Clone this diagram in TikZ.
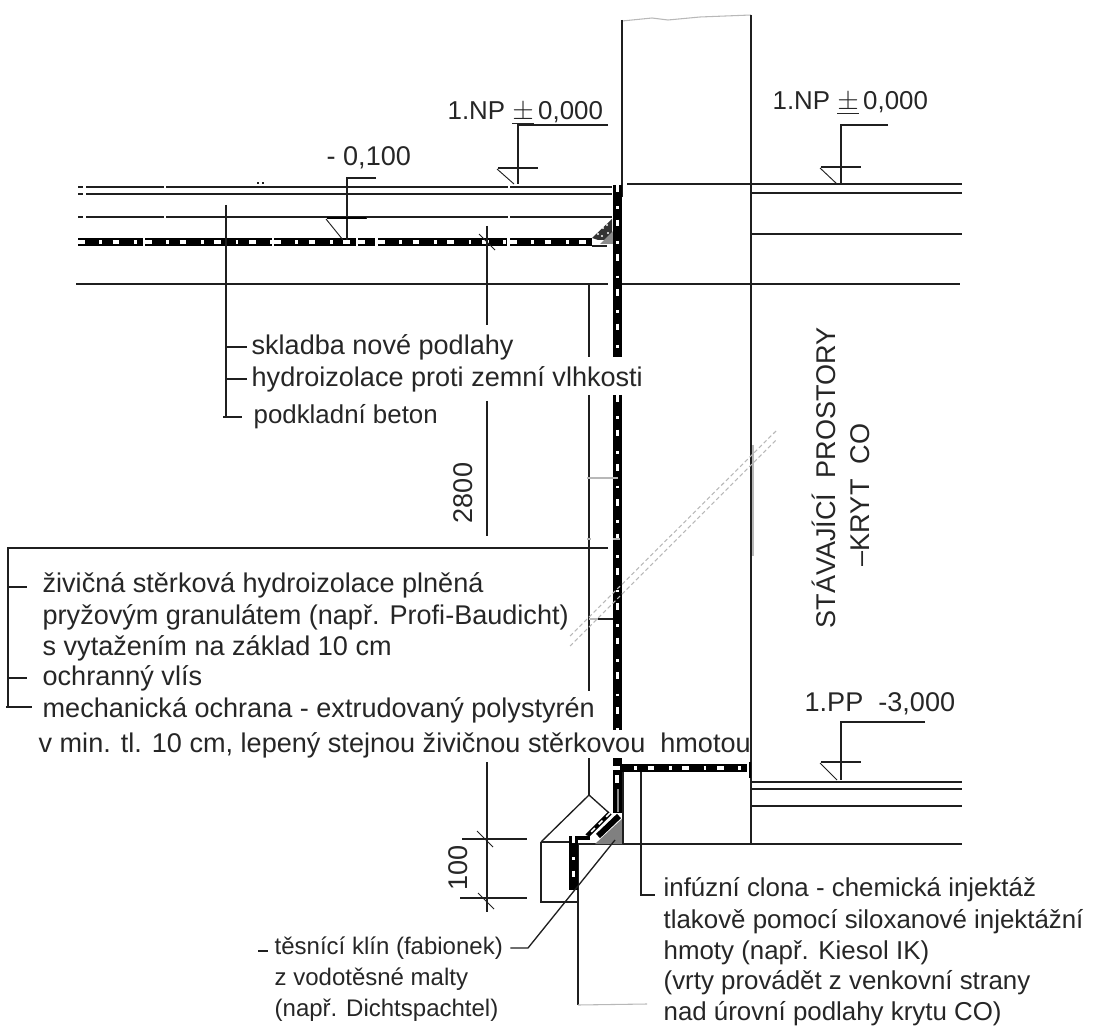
\documentclass[tikz,border=0pt]{standalone}
\usepackage{fontspec}
\setmainfont{Liberation Sans}
\tikzset{
    ln/.style={line width=1pt,color=black!88},
    lnpale/.style={line width=.8pt,color=black!28},
    lbl/.style={anchor=west,inner sep=0pt,outer xsep=3.5pt,font=\fontsize{20.3}{22}\selectfont,text=black!85},
    lblbase/.style={lbl,font=\fontsize{19.4}{22}\selectfont},
    lblfoot/.style={lbl,font=\fontsize{18}{22}\selectfont},
    lblup/.style={lbl,anchor=center,outer xsep=0pt,rotate=90},
    hydro/.style={line width=6.7pt,color=black,postaction={draw,white,line width=2.4pt,dash pattern=on 5pt off 11pt on 2pt off 8pt}},
    hydrothin/.style={line width=3.4pt,color=black,postaction={draw,white,line width=1.3pt,dash pattern=on 4pt off 4pt}},
}
\begin{document}
\begin{tikzpicture}[x=.75pt,y=-.75pt]
    \useasboundingbox (0,0) rectangle (1103,1030);

    % wall of the existing shelter
    \draw[lnpale] (622,21)--(652,18)--(668,20)--(700,17)--(751,15);
    \draw[ln] (622,20)--(622,197);
    \draw[ln] (751,15)--(751,844);
    \draw[lnpale] (753,445)--(753,556);
    \draw[ln] (627,184)--(962,184);
    \foreach \y in {193,234}
        \draw[ln] (751,\y)--(962,\y);
    \draw[ln] (622,284)--(960,284);
    \foreach \y in {782,789,806}
        \draw[ln] (751,\y)--(962,\y);
    \draw[ln] (578,844)--(962,844);

    % new floor
    \foreach \y in {187,217}
        \draw[ln] (78,\y)--(83,\y) (86,\y)--(164,\y) (166,\y)--(508,\y) (510,\y)--(612,\y);
    \draw[ln] (78,194)--(83,194) (86,194)--(612,194);
    \draw[ln] (76,284)--(608,284);
    \draw[ln,line width=.8pt] (257,183)--(259,183) (262,183)--(264,183);

    % waterproofing of the floor and the fillet
    \draw[hydro] (78,242)--(143,242);
    \draw[hydro] (145,242)--(272,242);
    \draw[hydro] (274,242)--(356,242);
    \draw[hydro] (358,242)--(375,242);
    \draw[hydro] (378,242)--(507,242);
    \draw[hydro] (510,242)--(592,242);
    \draw[ln] (592,246)--(607,246);
    \fill[black!80] (592,238)--(612,219)--(612,240)--(598,240)--cycle;
    \fill[black!45] (600,244)--(613,244)--(613,231)--cycle;
    \foreach \a/\b in {598/234,603/228,607/225,602/236,608/233}
        \fill[white] (\a,\b) circle (1.2);

    % waterproofing of the wall
    \draw[hydro] (617.5,185)--(617.5,357);
    \draw[hydro] (617.5,395)--(617.5,730);
    \draw[ln] (589,285)--(589,357) (589,395)--(589,691) (589,758)--(589,795);

    % footing detail
    \fill[black!50] (595,844)--(623,844)--(623,818)--cycle;
    \draw[ln] (541,842)--(541,902)--(577,902);
    \draw[ln] (541,842)--(572,842);
    \draw[ln] (541,842)--(589,795)--(608,812);
    \draw[ln] (578,844)--(578,1005);
    \draw[lnpale] (578,1005)--(647,1004);
    \draw[ln] (623,772)--(623,844);
    \draw[line width=6.7pt] (617.5,758)--(617.5,813);
    \fill[white] (615,775) rectangle (619,783);
    \draw[black!45,line width=2pt] (618,789)--(618,812);
    \draw[hydro] (613,768)--(747,768);
    \draw[line width=4.4pt] (619,816)--(598,836);
    \draw[hydrothin] (610,813)--(587,836);
    \draw[line width=3pt] (570,838)--(590,838);
    \draw[hydro] (573.5,836)--(573.5,890);
    \draw[line width=1.8pt] (750,762)--(750,778);

    % break lines
    \draw[lnpale,densely dashed] (570,636)--(776,431);
    \draw[lnpale,densely dashed] (570,646)--(776,440);

    % level marks
    \foreach \mx/\mtop/\mbar/\mend/\mflag in {347/178/218/240/376,518/125/168/184/608,841/125/167/184/888,841/722/762/780/925}{
        \draw[ln] (\mflag,\mtop)--(\mx,\mtop)--(\mx,\mend);
        \draw[ln] (\mx-20,\mbar)--(\mx+20,\mbar);
        \draw[ln,line width=.7pt] (\mx-21,\mbar+1)--(\mx-4,\mend);
    }
    \draw[line width=1.8pt] (327,218)--(366,218);

    % dimension line
    \draw[ln] (487,226)--(487,325) (487,401)--(487,536) (487,762)--(487,912);
    \draw[ln] (462,839)--(527,839) (460,898)--(527,898);
    \foreach \tx/\ty in {487/242,485/839,486/901}
        \draw[ln,line width=.7pt] (\tx-8,\ty-8)--(\tx+8,\ty+8);

    % texts
    \node[lbl] (lvlfloor) at (322,158) {- 0,100};
    \node[lblbase] (lvlleft) at (443,113) {1.NP $\underline{\pm}$\,0,000};
    \node[lblbase] (lvlright) at (768,103) {1.NP $\underline{\pm}$\,0,000};
    \node[lbl] (lvlbase) at (800,704) {1.PP\ \ -3,000};
    \node[lblup] (room) at (824,478) {STÁVAJÍCÍ\ \ PROSTORY};
    \node[lblup] (roomtwo) at (860,495) {–KRYT\ \ CO};
    \node[lblup] (dimwall) at (463,493) {2800};
    \node[lblup] (dimfoot) at (458,868) {100};

    \node[lbl] (skladba) at (247,347) {skladba nové podlahy};
    \node[lbl] (hydrofloor) at (247,379) {hydroizolace proti zemní vlhkosti};
    \node[lblbase] (podklad) at (249,417) {podkladní beton};

    \node[lbl] (zivicna) at (38,585) {živičná stěrková hydroizolace plněná};
    \node[lbl] (pryz) at (38,617) {pryžovým granulátem (např. Profi-Baudicht)};
    \node[lbl] (vytaz) at (38,648) {s vytažením na základ 10 cm};
    \node[lbl] (vlis) at (38,678) {ochranný vlís};
    \node[lbl] (mech) at (38,710) {mechanická ochrana - extrudovaný polystyrén};
    \node[lbl] (minimum) at (34,745) {v min. tl. 10 cm, lepený stejnou živičnou stěrkovou\ \ hmotou};

    \node[lblbase] (infuze) at (659,890) {infúzní clona - chemická injektáž};
    \node[lblbase] (tlak) at (659,922) {tlakově pomocí siloxanové injektážní};
    \node[lblbase] (hmoty) at (659,953) {hmoty (např. Kiesol IK)};
    \node[lblbase] (vrty) at (659,983) {(vrty provádět z venkovní strany};
    \node[lblbase] (uroven) at (659,1014) {nad úrovní podlahy krytu CO)};

    \node[lblfoot] (klin) at (270,948) {těsnící klín (fabionek)};
    \node[lblfoot] (malta) at (270,979) {z vodotěsné malty};
    \node[lblfoot] (napr) at (270,1010) {(např. Dichtspachtel)};

    % leaders
    \draw[ln] (226,205)--(226,417);
    \draw[ln] (226,347)--(skladba.west);
    \draw[ln] (226,379)--(hydrofloor.west);
    \draw[ln] (223,417)--(242,417);
    \draw[ln] (608,548)--(8,548)--(8,707);
    \draw[ln] (8,587)--(27,587);
    \draw[ln] (8,678)--(27,678);
    \draw[ln] (6,707)--(32,707);
    \draw[lnpale] (587,478)--(618,478);
    \draw[lnpale] (587,539)--(591,539) (613,539)--(620,539);
    \draw[ln] (598,619)--(613,619);
    \draw[lnpale] (589,619)--(598,619);
    \draw[ln] (641,772)--(641,895)--(655,895);
    \draw[ln] (klin.east)++(3,0)--(528,948)--(615,840);
    \draw[ln] (258,951)--(268,951);
\end{tikzpicture}
\end{document}
